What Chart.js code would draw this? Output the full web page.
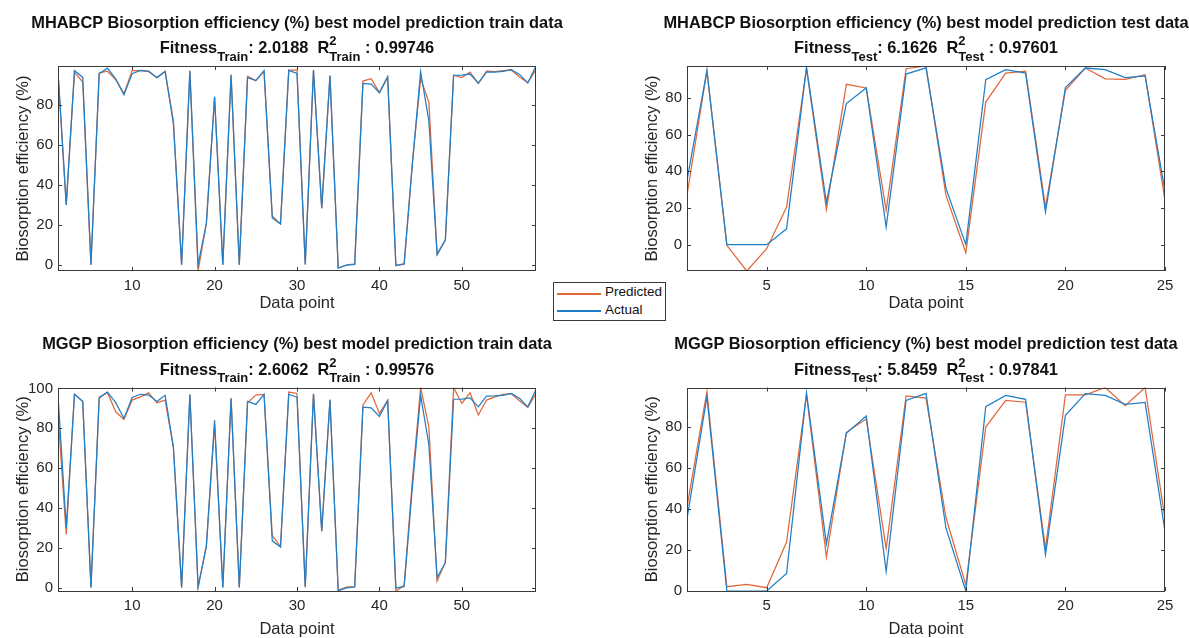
<!DOCTYPE html>
<html>
<head>
<meta charset="utf-8">
<title>Biosorption efficiency - best model predictions</title>
<script src="https://cdn.jsdelivr.net/npm/chart.js@4.4.1/dist/chart.umd.min.js"></script>
<style>
  html, body { margin: 0; padding: 0; background: #fff; }
  body {
    width: 1189px; height: 638px; position: relative; overflow: hidden;
    font-family: 'Liberation Sans', Arial, Helvetica, sans-serif; color: #262626;
  }
  canvas { position: absolute; }
  .ttl {
    position: absolute; transform: translateX(-50%); white-space: nowrap;
    font-weight: bold; font-size: 16.4px; line-height: 16px; color: #111;
  }
  .sub { position: relative; top: 7.5px; font-size: 13px; }
  .stk { position: relative; display: inline-block; }
  .stk .sup { position: absolute; left: 0; top: -6px; font-size: 13px; line-height: 16px; }
  #legend {
    position: absolute; left: 553px; top: 282px; width: 113px; height: 39px;
    box-sizing: border-box; border: 1px solid #3a3a3a; background: #fff; z-index: 5;
  }
  #legend .swatch { position: absolute; left: 3px; width: 44px; height: 1.5px; }
  #legend .lbl { position: absolute; left: 51px; font-size: 13.5px; line-height: 14px; color: #111; }
</style>
</head>
<body>
<canvas id="c0" width="594" height="319" style="left:0;top:0"></canvas>
<canvas id="c1" width="559" height="319" style="left:630px;top:0"></canvas>
<canvas id="c2" width="594" height="319" style="left:0;top:319px"></canvas>
<canvas id="c3" width="559" height="319" style="left:630px;top:319px"></canvas>
<div id="titles"></div>
<div id="legend">
  <div class="swatch" style="top:10px;background:#e0673a"></div>
  <div class="lbl" style="top:2px">Predicted</div>
  <div class="swatch" style="top:27px;background:#1f7fc8"></div>
  <div class="lbl" style="top:20px">Actual</div>
</div>
<script>
// measured vs. predicted biosorption efficiency (%), per data point
const actualTrain = [96.8, 30.0, 97.0, 93.6, 0.0, 95.5, 98.2, 92.9, 85.0, 95.5,
  97.1, 96.7, 93.5, 96.6, 70.6, 0.0, 97.0, 0.2, 20.6, 84.0,
  0.0, 95.1, 0.0, 93.5, 92.0, 97.0, 23.5, 20.4, 97.1, 95.6,
  0.2, 97.3, 28.2, 94.5, -1.6, -0.1, 0.3, 90.6, 90.3, 86.0,
  94.0, -0.2, 0.6, 50.4, 96.5, 71.9, 5.1, 12.4, 94.6, 94.7,
  95.3, 90.8, 96.2, 96.3, 96.6, 97.5, 95.1, 90.8, 99.3];
const predictedMhabcpTrain = [95.8, 30.0, 96.2, 91.3, 0.3, 95.8, 96.7, 92.5, 85.5, 97.0,
  97.0, 96.5, 93.5, 96.5, 72.0, 0.5, 96.6, -3.0, 20.8, 83.5,
  0.3, 94.6, 0.2, 94.2, 92.0, 96.6, 24.5, 20.5, 97.2, 97.2,
  0.3, 97.0, 28.5, 94.4, -1.5, 0.0, 0.5, 91.8, 93.0, 86.0,
  93.6, -0.3, 0.4, 51.0, 93.0, 81.3, 5.5, 12.6, 94.7, 93.5,
  96.3, 90.5, 96.7, 96.5, 97.0, 97.3, 93.8, 91.0, 97.5];
const predictedMggpTrain = [87.0, 26.7, 97.2, 93.4, 0.2, 95.3, 98.0, 88.3, 84.5, 94.2,
  95.8, 97.8, 92.8, 94.2, 70.4, 0.3, 97.0, 0.3, 21.0, 82.0,
  0.2, 95.0, 0.3, 92.8, 96.7, 97.0, 26.2, 20.6, 98.2, 97.5,
  0.5, 97.2, 28.5, 94.0, -1.3, 0.2, 0.5, 91.7, 97.8, 87.5,
  94.0, -1.7, 1.0, 54.0, 100.5, 80.8, 3.3, 12.8, 100.4, 92.5,
  97.8, 86.7, 94.2, 95.8, 97.0, 97.4, 93.8, 90.5, 97.5];

const actualTest = [35.2, 94.9, 0.0, 0.0, 0.0, 8.6, 96.9, 23.0, 77.0, 85.5,
  9.6, 93.1, 96.5, 30.8, 0.0, 90.0, 95.5, 93.6, 17.8, 85.8,
  96.4, 95.5, 91.2, 92.1, 29.2];
const predictedMhabcpTest = [27.0, 95.0, -0.4, -14.4, -2.2, 20.5, 96.0, 19.1, 87.5, 85.5,
  18.7, 96.0, 97.5, 27.0, -4.4, 77.8, 93.6, 94.7, 20.5, 84.2,
  96.4, 90.5, 90.2, 92.7, 24.2];
const predictedMggpTest = [40.9, 97.4, 2.1, 3.2, 1.6, 23.9, 95.8, 16.6, 77.5, 84.0,
  20.7, 95.3, 94.2, 36.0, 2.9, 80.1, 93.1, 92.2, 20.7, 95.8,
  95.8, 99.4, 90.5, 99.4, 35.2];

const xTicksTrain = [10, 20, 30, 40, 50];
const xTicksTest = [5, 10, 15, 20, 25];
const yTicks = [0, 20, 40, 60, 80];
const yTicksFull = [0, 20, 40, 60, 80, 100];

const seriesLabels = ['Predicted', 'Actual'];
const colPred = '#e0673a';
const colActual = '#1f7fc8';
const ink = '#262626';
const frameCol = '#3a3a3a';
const FONT = "'Liberation Sans', Arial, Helvetica, sans-serif";

// one entry per subplot; left/top of canvas in page px, plot box in page px
const panels = [
  { id: 'c0', model: 'MHABCP', split: 'Train', fitness: '2.0188', r2: '0.99746',
    actual: actualTrain, predicted: predictedMhabcpTrain, xTicks: xTicksTrain, yTicks: yTicks,
    cx: 0, cy: 0, box: { l: 58, t: 66, r: 536, b: 271 }, xTitleY: 303 },
  { id: 'c1', model: 'MHABCP', split: 'Test', fitness: '6.1626', r2: '0.97601',
    actual: actualTest, predicted: predictedMhabcpTest, xTicks: xTicksTest, yTicks: yTicks,
    cx: 630, cy: 0, box: { l: 687, t: 66, r: 1165, b: 271 }, xTitleY: 303 },
  { id: 'c2', model: 'MGGP', split: 'Train', fitness: '2.6062', r2: '0.99576',
    actual: actualTrain, predicted: predictedMggpTrain, xTicks: xTicksTrain, yTicks: yTicksFull,
    cx: 0, cy: 319, box: { l: 58, t: 387.5, r: 536, b: 591 }, xTitleY: 629 },
  { id: 'c3', model: 'MGGP', split: 'Test', fitness: '5.8459', r2: '0.97841',
    actual: actualTest, predicted: predictedMggpTest, xTicks: xTicksTest, yTicks: yTicks,
    cx: 630, cy: 319, box: { l: 687, t: 387.5, r: 1165, b: 591 }, xTitleY: 629 },
];

// inward ticks on all four sides plus the closed box, drawn over the lines
const boxAxes = {
  id: 'boxAxes',
  afterDatasetsDraw(chart) {
    const { ctx, chartArea: a, scales: { x, y } } = chart;
    const len = 4;
    ctx.save();
    ctx.strokeStyle = frameCol;
    ctx.lineWidth = 1;
    ctx.beginPath();
    x.ticks.forEach(t => {
      const px = Math.round(x.getPixelForValue(t.value)) + 0.5;
      ctx.moveTo(px, a.bottom); ctx.lineTo(px, a.bottom - len);
      ctx.moveTo(px, a.top); ctx.lineTo(px, a.top + len);
    });
    y.ticks.forEach(t => {
      const py = Math.round(y.getPixelForValue(t.value)) + 0.5;
      ctx.moveTo(a.left, py); ctx.lineTo(a.left + len, py);
      ctx.moveTo(a.right, py); ctx.lineTo(a.right - len, py);
    });
    ctx.stroke();
    ctx.strokeRect(Math.round(a.left) + 0.5, Math.round(a.top) + 0.5,
      Math.round(a.right - a.left) - 1, Math.round(a.bottom - a.top) - 1);
    ctx.restore();
  }
};

function toPoints(values) {
  return values.map((v, i) => ({ x: i + 1, y: v }));
}

function buildTitle(p) {
  const holder = document.getElementById('titles');
  const centre = (p.box.l + p.box.r) / 2;
  const l1 = document.createElement('div');
  l1.className = 'ttl';
  l1.style.left = centre + 'px';
  l1.style.top = (p.box.t - 39 - 13.5) + 'px';
  l1.textContent = `${p.model} Biosorption efficiency (%) best model prediction ${p.split.toLowerCase()} data`;
  const l2 = document.createElement('div');
  l2.className = 'ttl';
  l2.style.left = centre + 'px';
  l2.style.top = (p.box.t - 13.5 - 13.5) + 'px';
  l2.innerHTML = `Fitness<span class="sub">${p.split}</span>: ${p.fitness}&nbsp;&nbsp;R` +
    `<span class="stk"><span class="sub">${p.split}</span><span class="sup">2</span></span> : ${p.r2}`;
  holder.appendChild(l1);
  holder.appendChild(l2);
}

function drawPanel(p) {
  const canvas = document.getElementById(p.id);
  const W = canvas.width, H = canvas.height;
  const yAxisW = p.box.l - p.cx;
  const padTop = p.box.t - p.cy;
  const padRight = W - (p.box.r - p.cx);
  const xAxisH = H - (p.box.b - p.cy);
  const all = p.actual.concat(p.predicted);
  const yMin = Math.min(...all), yMax = Math.max(...all);
  const yTitleCentre = (p.box.l - 35) - p.cx;
  const xTitleOffset = (p.cy + H) - p.xTitleY;

  new Chart(canvas, {
    type: 'line',
    data: {
      datasets: [
        { label: seriesLabels[0], data: toPoints(p.predicted), borderColor: colPred, order: 1 },
        { label: seriesLabels[1], data: toPoints(p.actual), borderColor: colActual, order: 0 },
      ]
    },
    options: {
      responsive: false,
      animation: false,
      devicePixelRatio: 1,
      layout: { padding: { left: 0, top: padTop, right: padRight, bottom: 0 } },
      elements: {
        line: { borderWidth: 1.25, tension: 0, fill: false },
        point: { radius: 0, hoverRadius: 0 }
      },
      plugins: { legend: { display: false }, tooltip: { enabled: false }, title: { display: false } },
      scales: {
        x: {
          type: 'linear', min: 1, max: p.actual.length,
          afterBuildTicks: s => { s.ticks = p.xTicks.map(v => ({ value: v })); },
          afterFit: s => { s.height = xAxisH; },
          grid: { display: false, drawTicks: false },
          border: { display: false },
          ticks: { color: ink, padding: 6, maxRotation: 0, autoSkip: false,
            font: { family: FONT, size: 15 }, callback: v => String(v) },
          title: { display: true, text: 'Data point', color: ink,
            font: { family: FONT, size: 16.5, lineHeight: 1 },
            padding: { top: 0, bottom: xTitleOffset - 8.25 } }
        },
        y: {
          min: yMin, max: yMax,
          afterBuildTicks: s => { s.ticks = p.yTicks.map(v => ({ value: v })); },
          afterFit: s => { s.width = yAxisW; },
          grid: { display: false, drawTicks: false },
          border: { display: false },
          ticks: { color: ink, padding: 5, font: { family: FONT, size: 15 }, callback: v => String(v) },
          title: { display: true, text: 'Biosorption efficiency (%)', color: ink,
            font: { family: FONT, size: 16.5, lineHeight: 1 },
            padding: { top: yTitleCentre - 8.25, bottom: 0 } }
        }
      }
    },
    plugins: [boxAxes]
  });
}

panels.forEach(p => { buildTitle(p); drawPanel(p); });
</script>
</body>
</html>
